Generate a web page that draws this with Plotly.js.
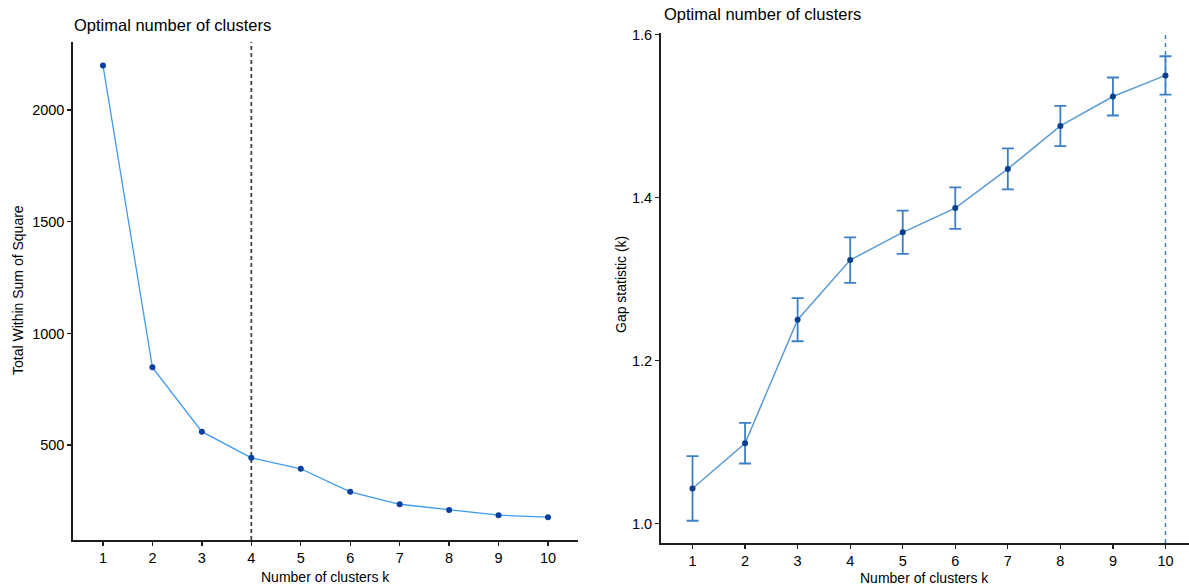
<!DOCTYPE html>
<html>
<head>
<meta charset="utf-8">
<script src="https://cdn.plot.ly/plotly-3.0.1.min.js"></script>
<style>
html,body{margin:0;padding:0;overflow:hidden;background:#fff;}
#chart{width:1200px;height:587px;}
</style>
</head>
<body>
<div id="chart"></div>
<script>
// ---- data ----
const kValues = [1, 2, 3, 4, 5, 6, 7, 8, 9, 10];
const wssValues = [2200, 848, 560, 443, 394, 291, 235, 209, 186, 177];
const wssOptimalK = 4;
const gapValues = [1.0433, 1.0988, 1.2503, 1.3235, 1.3575, 1.3872, 1.4353, 1.4880, 1.5241, 1.5500];
const gapSE = [0.0396, 0.0249, 0.0264, 0.0279, 0.0265, 0.0255, 0.0251, 0.0247, 0.0233, 0.0235];
const gapOptimalK = 10;
const tickLabels = ["1","2","3","4","5","6","7","8","9","10"];

const W = 1200, H = 587;
const font = 'Liberation Sans, Arial, sans-serif';

// pixel layout helpers (plot areas)
const L = {x0: 73.3, x1: 577.7, y0: 42, y1: 540};
const R = {x0: 661, x1: 1197, y0: 33.4, y1: 543};
function dx(a, b){ return [a / W, b / W]; }
function dy(top, bottom){ return [(H - bottom) / H, (H - top) / H]; }

const axisCommon = {
  showgrid: false, zeroline: false, showline: true, linecolor: '#1e1e1e', linewidth: 2,
  ticks: 'outside', ticklen: 4, tickwidth: 1.3, tickcolor: '#1e1e1e',
  tickfont: {family: font, size: 14.5, color: '#000'}, mirror: false
};

const traces = [
  {
    x: kValues, y: wssValues, xaxis: 'x', yaxis: 'y', type: 'scatter', mode: 'lines+markers',
    line: {color: '#3D9BF0', width: 1.3},
    marker: {color: '#0A3FA0', size: 6, symbol: 'circle'},
    hoverinfo: 'skip', showlegend: false
  },
  {
    x: kValues, y: gapValues, xaxis: 'x2', yaxis: 'y2', type: 'scatter', mode: 'lines+markers',
    line: {color: '#5B9BD5', width: 1.5},
    marker: {color: '#0A3F8C', size: 6, symbol: 'circle'},
    error_y: {type: 'data', array: gapSE, visible: true, color: '#3C7FC4', thickness: 1.8, width: 6},
    hoverinfo: 'skip', showlegend: false
  }
];

const layout = {
  width: W, height: H,
  margin: {l: 0, r: 0, t: 0, b: 0},
  paper_bgcolor: '#fff', plot_bgcolor: '#fff',
  font: {family: font, color: '#000'},
  xaxis: Object.assign({}, axisCommon, {
    domain: dx(L.x0, L.x1), range: [0.4, 10.6], anchor: 'y',
    tickvals: kValues, ticktext: tickLabels
  }),
  yaxis: Object.assign({}, axisCommon, {
    domain: dy(L.y0, L.y1), range: [75, 2305], anchor: 'x',
    tickvals: [500, 1000, 1500, 2000]
  }),
  xaxis2: Object.assign({}, axisCommon, {
    domain: dx(R.x0, R.x1), range: [0.4, 10.6], anchor: 'y2',
    tickvals: kValues, ticktext: tickLabels
  }),
  yaxis2: Object.assign({}, axisCommon, {
    domain: dy(R.y0, R.y1), range: [0.9764, 1.6015], anchor: 'x2',
    tickvals: [1.0, 1.2, 1.4, 1.6], ticktext: ['1.0', '1.2', '1.4', '1.6']
  }),
  shapes: [
    {type: 'line', xref: 'x', yref: 'y domain', x0: wssOptimalK, x1: wssOptimalK, y0: 0, y1: 1,
     line: {color: '#444', width: 1.8, dash: '4px,3px'}, layer: 'below'},
    {type: 'line', xref: 'x2', yref: 'y2 domain', x0: gapOptimalK, x1: gapOptimalK, y0: 0, y1: 1,
     line: {color: '#3C7FC4', width: 1.5, dash: '4px,4px'}, layer: 'below'}
  ],
  annotations: [
    {text: 'Optimal number of clusters', xref: 'paper', yref: 'paper', x: 72 / W, y: (H - 25) / H,
     xanchor: 'left', yanchor: 'middle', showarrow: false, font: {family: font, size: 16.5, color: '#000'}},
    {text: 'Optimal number of clusters', xref: 'paper', yref: 'paper', x: 662 / W, y: (H - 14) / H,
     xanchor: 'left', yanchor: 'middle', showarrow: false, font: {family: font, size: 16.5, color: '#000'}},
    {text: 'Number of clusters k', xref: 'paper', yref: 'paper', x: ((L.x0 + L.x1) / 2) / W, y: (H - 577) / H,
     xanchor: 'center', yanchor: 'middle', showarrow: false, font: {family: font, size: 14, color: '#000'}},
    {text: 'Number of clusters k', xref: 'paper', yref: 'paper', x: 924 / W, y: (H - 578) / H,
     xanchor: 'center', yanchor: 'middle', showarrow: false, font: {family: font, size: 14, color: '#000'}},
    {text: 'Total Within Sum of Square', xref: 'paper', yref: 'paper', x: 18 / W, y: (H - 290) / H,
     xanchor: 'center', yanchor: 'middle', textangle: -90, showarrow: false, font: {family: font, size: 14, color: '#000'}},
    {text: 'Gap statistic (k)', xref: 'paper', yref: 'paper', x: 621 / W, y: (H - 285) / H,
     xanchor: 'center', yanchor: 'middle', textangle: -90, showarrow: false, font: {family: font, size: 14, color: '#000'}}
  ]
};

Plotly.newPlot('chart', traces, layout, {displayModeBar: false, staticPlot: true});
</script>
</body>
</html>
